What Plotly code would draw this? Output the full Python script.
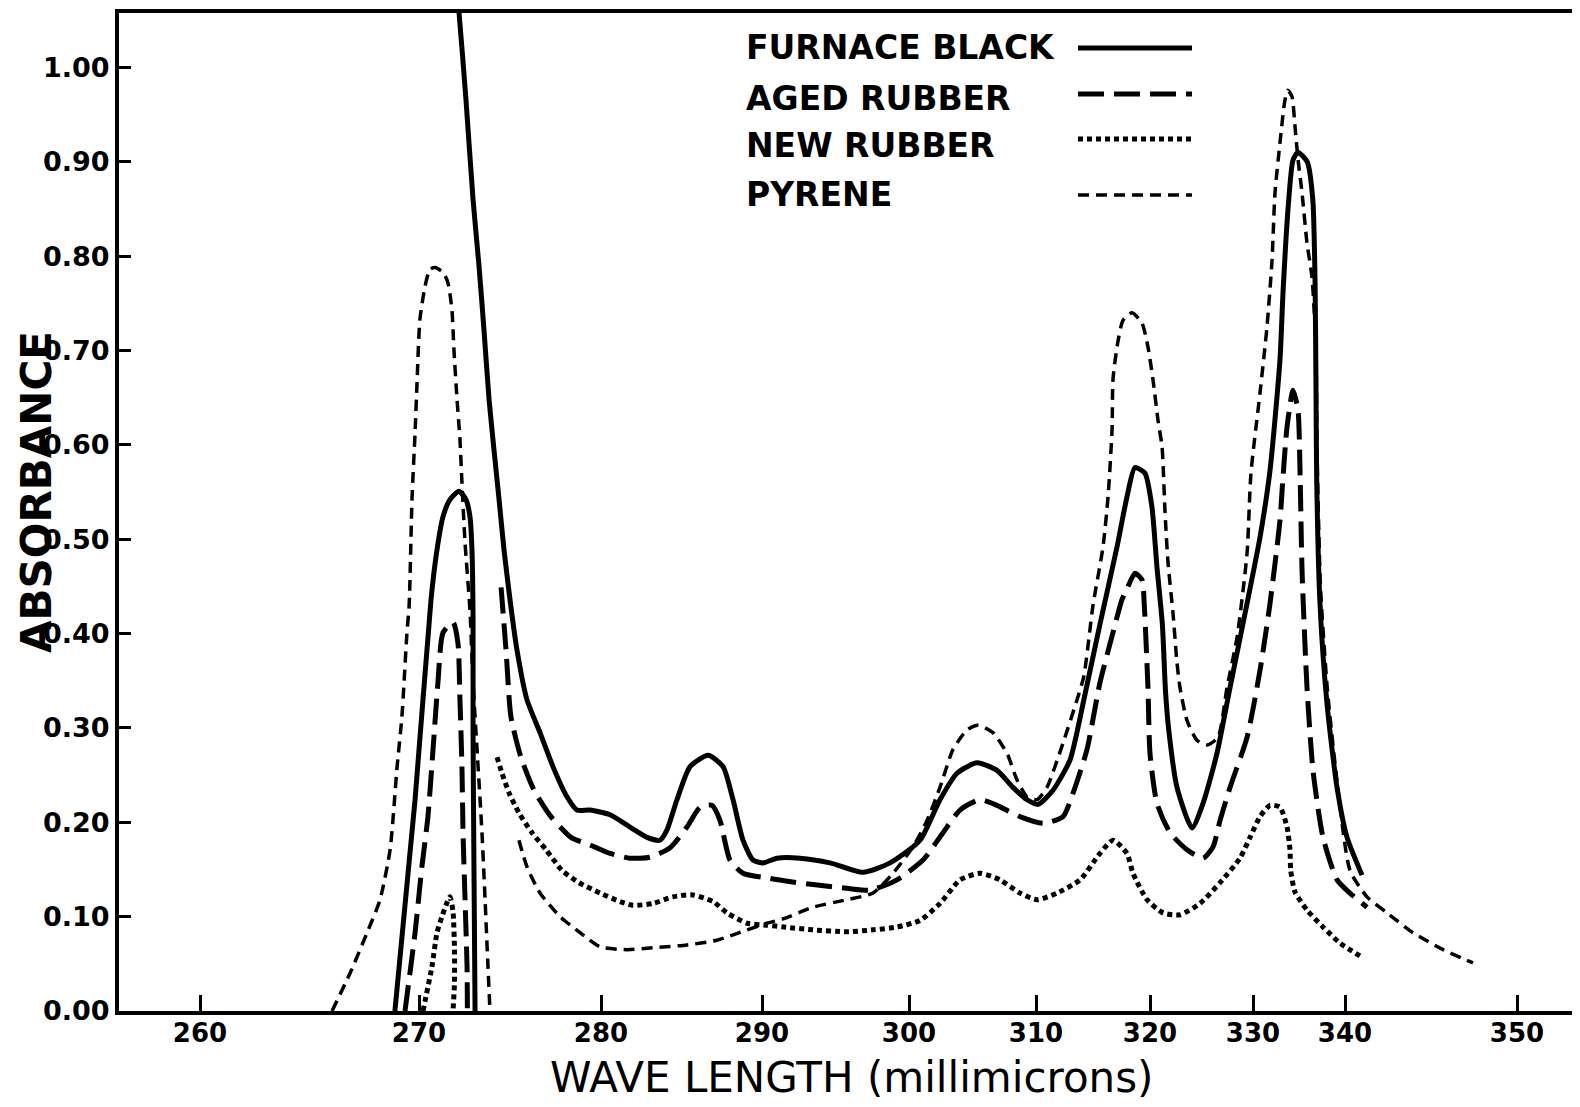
import numpy as np
import plotly.graph_objects as go

# ---------------------------------------------------------------
# Non-linear wavelength scale of the original (prism-type) chart:
# printed tick wavelengths and where they sit along the axis (axis units)
SCALE_WL = [260, 270, 280, 290, 300, 310, 320, 330, 340, 350]
SCALE_POS = [81, 300, 482, 643, 790, 917, 1031, 1134, 1226, 1398]
X_RANGE = [0, 1461]
Y_RANGE = [0, 1.0578]
Y_TICKS = [0.0, 0.1, 0.2, 0.3, 0.4, 0.5, 0.6, 0.7, 0.8, 0.9, 1.0]

# ---------------------------------------------------------------
# FURNACE BLACK (solid)
FB_WL_1 = [268.9, 269.82, 270.66, 270.99, 271.32, 271.7, 272.2, 272.58, 272.8, 272.91,
           272.97, 272.97, 273.02, 273.08]
FB_ABS_1 = [0.0, 0.224, 0.436, 0.489, 0.524, 0.542, 0.551, 0.542, 0.524, 0.489,
            0.418, 0.295, 0.153, 0.0]
FB_WL_2 = [272.1, 272.2, 272.58, 272.97, 273.3, 273.57, 273.85, 274.12, 274.4, 274.67,
           275.0, 275.38, 275.93, 276.65, 277.36, 278.13, 278.68, 279.4, 280.56, 281.8,
           282.86, 283.66, 284.1, 284.72, 285.53, 286.65, 287.58, 288.2, 288.82, 289.44,
           290.07, 291.02, 292.59, 294.63, 296.87, 298.71, 300.87, 302.44, 303.78, 305.35,
           306.93, 308.19, 309.29, 310.18, 311.49, 312.98, 314.2, 315.61, 317.11, 317.98,
           318.68, 319.56, 320.19, 320.68, 321.2, 321.5, 321.8, 322.62, 324.08, 325.15,
           326.5, 327.77, 329.42, 330.76, 331.85, 332.93, 333.26, 333.8, 334.35, 334.9,
           335.9, 336.5, 336.75, 336.85, 336.92, 337.28, 338.04, 339.13, 340.12, 340.99]
FB_ABS_2 = [1.075, 1.058, 0.966, 0.86, 0.789, 0.722, 0.648, 0.595, 0.542, 0.489,
            0.436, 0.383, 0.33, 0.295, 0.259, 0.227, 0.213, 0.213, 0.208, 0.195,
            0.184, 0.181, 0.192, 0.224, 0.259, 0.271, 0.259, 0.224, 0.181, 0.16,
            0.157, 0.162, 0.162, 0.157, 0.147, 0.157, 0.181, 0.224, 0.252, 0.263,
            0.255, 0.237, 0.224, 0.219, 0.234, 0.266, 0.33, 0.41, 0.492, 0.545,
            0.576, 0.57, 0.534, 0.47, 0.41, 0.34, 0.3, 0.237, 0.194, 0.22,
            0.273, 0.343, 0.432, 0.502, 0.573, 0.69, 0.761, 0.849, 0.902, 0.91,
            0.9, 0.86, 0.77, 0.655, 0.566, 0.432, 0.326, 0.237, 0.184, 0.144]

# AGED RUBBER (long dashes)
AR_WL_1 = [269.36, 269.82, 270.16, 270.49, 270.77, 271.04, 271.32, 271.87, 272.14, 272.25,
           272.36, 272.42, 272.53, 272.64, 272.66]
AR_ABS_1 = [0.0, 0.083, 0.153, 0.206, 0.277, 0.348, 0.401, 0.412, 0.39, 0.33,
            0.259, 0.189, 0.118, 0.047, 0.0]
AR_WL_2 = [274.51, 274.78, 275.05, 275.6, 276.32, 277.25, 278.35, 279.4, 280.56, 281.8,
           283.04, 284.29, 285.34, 286.15, 286.89, 287.39, 288.01, 288.82, 290.34, 291.5,
           293.47, 295.78, 297.35, 299.18, 301.1, 302.68, 304.02, 305.59, 306.93, 308.74,
           310.61, 312.37, 313.25, 314.47, 315.61, 316.75, 317.54, 318.0, 318.68, 319.3,
           319.5, 319.82, 320.0, 320.68, 321.94, 323.59, 325.15, 326.12, 326.8, 327.77,
           329.42, 330.76, 331.85, 332.93, 333.26, 333.7, 334.35, 334.89, 335.11, 335.33,
           335.87, 336.52, 337.61, 339.13, 340.29, 341.28]
AR_ABS_2 = [0.449, 0.383, 0.312, 0.269, 0.234, 0.206, 0.184, 0.176, 0.167, 0.162,
            0.163, 0.173, 0.195, 0.216, 0.218, 0.202, 0.16, 0.146, 0.141, 0.138,
            0.134, 0.13, 0.128, 0.139, 0.16, 0.189, 0.213, 0.224, 0.218, 0.206,
            0.199, 0.206, 0.231, 0.277, 0.348, 0.401, 0.436, 0.448, 0.464, 0.457,
            0.43, 0.343, 0.273, 0.22, 0.189, 0.171, 0.162, 0.174, 0.202, 0.237,
            0.29, 0.361, 0.432, 0.52, 0.566, 0.619, 0.658, 0.637, 0.573, 0.467,
            0.343, 0.255, 0.184, 0.139, 0.125, 0.11]

# NEW RUBBER (dots)
NR_WL_1 = [270.22, 270.71, 270.99, 271.26, 271.54, 271.7, 271.87, 271.95, 271.95, 271.87]
NR_ABS_1 = [0.0, 0.047, 0.083, 0.1, 0.115, 0.121, 0.105, 0.065, 0.03, 0.0]
NR_WL_2 = [274.29, 274.56, 274.95, 275.49, 276.21, 276.98, 277.86, 278.79, 279.95, 281.18,
           281.99, 283.23, 284.47, 285.71, 286.96, 287.83, 289.07, 290.34, 291.5, 293.47,
           295.78, 297.55, 299.18, 300.87, 302.44, 304.02, 305.59, 307.17, 308.74, 310.09,
           311.84, 313.86, 315.61, 316.75, 317.98, 318.51, 319.74, 321.26, 322.91, 324.85,
           326.8, 328.74, 329.71, 330.76, 331.85, 332.93, 333.7, 334.02, 334.1, 334.57,
           335.87, 337.61, 339.46, 340.99]
NR_ABS_2 = [0.269, 0.252, 0.231, 0.21, 0.189, 0.171, 0.149, 0.136, 0.125, 0.116,
            0.112, 0.114, 0.121, 0.123, 0.116, 0.104, 0.093, 0.091, 0.089, 0.086,
            0.084, 0.086, 0.089, 0.096, 0.114, 0.139, 0.146, 0.139, 0.125, 0.118,
            0.125, 0.139, 0.167, 0.181, 0.167, 0.146, 0.118, 0.104, 0.102, 0.114,
            0.136, 0.162, 0.184, 0.206, 0.218, 0.216, 0.195, 0.171, 0.149, 0.126,
            0.107, 0.089, 0.072, 0.057]

# PYRENE (short dashes)
PY_WL_1 = [266.03, 266.85, 267.63, 268.22, 268.68, 269.0, 269.22, 269.45, 269.55, 269.68,
           269.82, 269.91, 270.05, 270.33, 270.6, 270.88, 271.32, 271.59, 271.81, 271.92,
           272.09, 272.25, 272.36, 272.53, 272.8, 272.97, 273.19, 273.46, 273.63, 273.79,
           273.9]
PY_ABS_1 = [0.0, 0.04, 0.083, 0.118, 0.171, 0.259, 0.312, 0.401, 0.43, 0.542,
            0.613, 0.666, 0.733, 0.768, 0.786, 0.788, 0.783, 0.772, 0.743, 0.701,
            0.648, 0.606, 0.56, 0.496, 0.425, 0.348, 0.277, 0.189, 0.118, 0.047,
            0.0]
PY_WL_2 = [275.49, 275.93, 276.65, 277.75, 278.85, 279.95, 281.61, 283.23, 285.34, 287.2,
           289.07, 290.34, 291.5, 293.47, 295.78, 297.55, 298.91, 300.31, 301.42, 302.44,
           303.46, 304.57, 305.43, 306.61, 307.72, 308.5, 309.29, 310.09, 310.96, 312.37,
           313.6, 314.2, 315.0, 315.88, 316.32, 316.67, 316.75, 317.11, 317.63, 318.42,
           319.3, 319.82, 320.29, 320.78, 321.17, 321.46, 321.75, 322.23, 322.62, 322.91,
           323.59, 324.56, 325.53, 326.6, 327.48, 328.45, 329.42, 329.8, 330.76, 331.52,
           332.07, 332.39, 332.93, 333.48, 333.8, 334.24, 334.57, 334.9, 335.33, 335.87,
           336.41, 336.85, 336.95, 337.33, 338.09, 339.18, 340.29, 341.28, 342.44, 343.95,
           345.7, 347.44]
PY_ABS_2 = [0.181, 0.153, 0.125, 0.1, 0.083, 0.068, 0.065, 0.067, 0.07, 0.075,
            0.086, 0.093, 0.098, 0.11, 0.118, 0.125, 0.146, 0.174, 0.202, 0.237,
            0.277, 0.298, 0.303, 0.295, 0.273, 0.245, 0.227, 0.224, 0.237, 0.284,
            0.33, 0.355, 0.43, 0.492, 0.545, 0.616, 0.669, 0.704, 0.732, 0.74,
            0.729, 0.704, 0.669, 0.626, 0.598, 0.528, 0.475, 0.422, 0.369, 0.343,
            0.308, 0.287, 0.282, 0.29, 0.343, 0.396, 0.485, 0.57, 0.655, 0.725,
            0.796, 0.867, 0.92, 0.966, 0.976, 0.969, 0.937, 0.902, 0.867, 0.814,
            0.778, 0.7, 0.6, 0.45, 0.34, 0.24, 0.149, 0.121, 0.104, 0.083,
            0.065, 0.051]

SERIES = ["FURNACE BLACK", "AGED RUBBER", "NEW RUBBER", "PYRENE"]

# ---------------------------------------------------------------
def to_axis(wl):
    return np.interp(np.asarray(wl, dtype=float), SCALE_WL, SCALE_POS)


def joined(parts):
    xs, ys = [], []
    for k, (w, a) in enumerate(parts):
        if k:
            xs.append(None)
            ys.append(None)
        xs.extend(to_axis(w).tolist())
        ys.extend(a)
    return xs, ys


STYLES = {
    "FURNACE BLACK": dict(color="black", width=5, dash="solid"),
    "AGED RUBBER": dict(color="black", width=5, dash="26px,10px"),
    "NEW RUBBER": dict(color="black", width=5, dash="5px,4px"),
    "PYRENE": dict(color="black", width=3.5, dash="11px,7px"),
}
DATA = {
    "FURNACE BLACK": [(FB_WL_1, FB_ABS_1), (FB_WL_2, FB_ABS_2)],
    "AGED RUBBER": [(AR_WL_1, AR_ABS_1), (AR_WL_2, AR_ABS_2)],
    "NEW RUBBER": [(NR_WL_1, NR_ABS_1), (NR_WL_2, NR_ABS_2)],
    "PYRENE": [(PY_WL_1, PY_ABS_1), (PY_WL_2, PY_ABS_2)],
}

# page body has an 8 px margin; the figure is sized/placed to compensate
OFF = 8
W, H = 1572, 1099
ML, MR, MT, MB = 111, 0, 5, 96

fig = go.Figure()
for name in SERIES:
    xs, ys = joined(DATA[name])
    fig.add_trace(go.Scatter(
        x=xs, y=ys, mode="lines", name=name, showlegend=False,
        line=dict(shape="spline", smoothing=0.6, **STYLES[name]),
        connectgaps=False, hoverinfo="skip"))


def px_x(p):
    # page pixel -> paper fraction
    return (p - OFF - ML) / (W - ML - MR)


def px_y(p):
    return (H - MB - (p - OFF)) / (H - MT - MB)


FONT = "DejaVu Sans"
annotations = []
shapes = []
# hand-drawn style legend: text on the left, line sample on the right
LEG_TEXT_Y = [48, 98, 146, 195]
LEG_LINE_Y = [48, 94, 139, 195]
for name, ty, ly in zip(SERIES, LEG_TEXT_Y, LEG_LINE_Y):
    annotations.append(dict(
        x=px_x(744), y=px_y(ty), xref="paper", yref="paper", text=f"<b>{name}</b>",
        showarrow=False, xanchor="left", yanchor="middle",
        font=dict(family=FONT, size=33, color="black")))
    st = STYLES[name]
    shapes.append(dict(
        type="line", xref="paper", yref="paper",
        x0=px_x(1078), x1=px_x(1192), y0=px_y(ly), y1=px_y(ly),
        line=dict(color=st["color"], width=st["width"], dash=st["dash"])))

annotations.append(dict(
    x=px_x(851), y=px_y(1077), xref="paper", yref="paper",
    text="WAVE LENGTH (millimicrons)", showarrow=False,
    xanchor="center", yanchor="middle",
    font=dict(family=FONT, size=42, color="black")))
annotations.append(dict(
    x=px_x(36), y=px_y(492), xref="paper", yref="paper",
    text="<b>ABSORBANCE</b>", showarrow=False, textangle=-90,
    xanchor="center", yanchor="middle", borderpad=0,
    font=dict(family=FONT, size=42, color="black")))

fig.update_layout(
    width=W, height=H,
    margin=dict(l=ML, r=MR, t=MT, b=MB, pad=0),
    paper_bgcolor="white", plot_bgcolor="white",
    annotations=annotations, shapes=shapes,
    xaxis=dict(
        range=X_RANGE, showgrid=False, zeroline=False,
        showline=True, linecolor="black", linewidth=4, mirror=True,
        tickmode="array", tickvals=to_axis(SCALE_WL).tolist(),
        ticktext=[str(w) for w in SCALE_WL],
        ticks="inside", ticklen=16, tickwidth=3, tickcolor="black",
        ticklabelstandoff=-4,
        tickfont=dict(family=FONT, size=26, color="black", weight="bold"),
    ),
    yaxis=dict(
        range=Y_RANGE, showgrid=False, zeroline=False,
        showline=True, linecolor="black", linewidth=4,
        tickmode="array", tickvals=Y_TICKS,
        ticktext=[f"{v:.2f}" for v in Y_TICKS],
        ticks="inside", ticklen=12, tickwidth=3, tickcolor="black",
        tickfont=dict(family=FONT, size=27, color="black", weight="bold"),
    ),
)

fig.write_html("out.html")
